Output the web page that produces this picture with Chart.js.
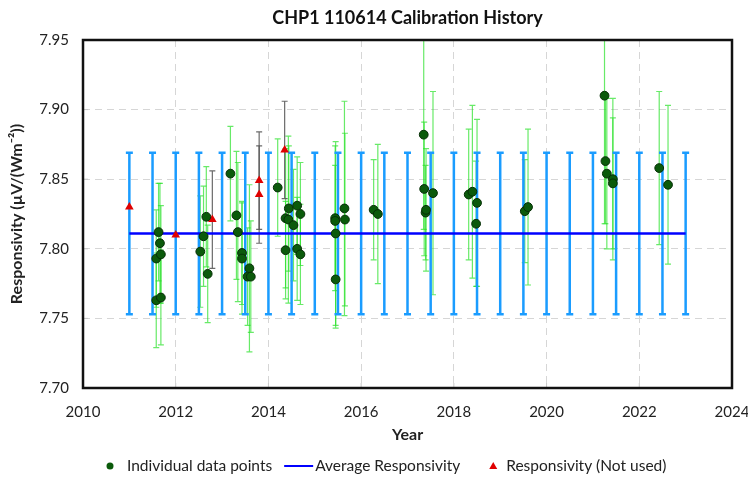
<!DOCTYPE html>
<html>
<head>
<meta charset="utf-8">
<script src="https://cdn.jsdelivr.net/npm/chart.js"></script>
<style>
  html, body { margin: 0; padding: 0; background: #fff; }
  canvas { display: block; }
</style>
</head>
<body>
<canvas id="calChart" width="748" height="477"></canvas>
<script>
// individual calibration results (year, responsivity, uncertainty)
const ptYears = [2011.58, 2011.63, 2011.66, 2011.68, 2011.58, 2011.68,
  2012.53, 2012.60, 2012.66, 2012.69,
  2013.18, 2013.31, 2013.34, 2013.43, 2013.43, 2013.59, 2013.55, 2013.62,
  2014.20, 2014.37, 2014.44, 2014.43, 2014.54, 2014.62, 2014.69, 2014.37, 2014.62, 2014.69,
  2015.44, 2015.44, 2015.45, 2015.45, 2015.64, 2015.65,
  2016.27, 2016.36,
  2017.35, 2017.36, 2017.39, 2017.40, 2017.55,
  2018.32, 2018.40, 2018.50, 2018.48,
  2019.53, 2019.60,
  2021.25, 2021.27, 2021.30, 2021.43, 2021.43,
  2022.43, 2022.62];
const ptValues = [7.793, 7.812, 7.804, 7.796, 7.763, 7.765,
  7.798, 7.809, 7.823, 7.782,
  7.854, 7.824, 7.812, 7.797, 7.793, 7.786, 7.780, 7.780,
  7.844, 7.822, 7.829, 7.821, 7.817, 7.831, 7.825, 7.799, 7.800, 7.796,
  7.822, 7.820, 7.811, 7.778, 7.829, 7.821,
  7.828, 7.825,
  7.882, 7.843, 7.826, 7.828, 7.840,
  7.839, 7.841, 7.833, 7.818,
  7.827, 7.830,
  7.910, 7.863, 7.854, 7.850, 7.847,
  7.858, 7.846];
const ptErrors = [0.035, 0.035, 0.043, 0.035, 0.034, 0.034,
  0.040, 0.036, 0.036, 0.035,
  0.034, 0.046, 0.050, 0.037, 0.040, 0.060, 0.035, 0.040,
  0.035, 0.050, 0.045, 0.060, 0.040, 0.035, 0.037, 0.035, 0.037, 0.036,
  0.052, 0.040, 0.066, 0.035, 0.077, 0.062,
  0.036, 0.050,
  0.068, 0.048, 0.034, 0.044, 0.073,
  0.047, 0.062, 0.060, 0.045,
  0.037, 0.056,
  0.092, 0.045, 0.054, 0.058, 0.047,
  0.055, 0.057];

// results that were not used in the average
const notUsedYears = [2011.00, 2012.00, 2012.79, 2013.80, 2013.80, 2014.35];
const notUsedValues = [7.830, 7.810, 7.821, 7.849, 7.839, 7.871];
const notUsedErrors = [0, 0, 0.035, 0.035, 0.035, 0.035];

// average responsivity and its uncertainty
const avgYears = [2011, 2011.5, 2012, 2012.5, 2013, 2013.5, 2014, 2014.5, 2015, 2015.5,
  2016, 2016.5, 2017, 2017.5, 2018, 2018.5, 2019, 2019.5, 2020, 2020.5,
  2021, 2021.5, 2022, 2022.5, 2023];
const avgValue = 7.811;
const avgError = 0.058;

const xTicks = [2010, 2012, 2014, 2016, 2018, 2020, 2022, 2024];
const yTicks = [7.70, 7.75, 7.80, 7.85, 7.90, 7.95];

const FONT = 'Lato, "Noto Sans", sans-serif';
Chart.defaults.font.family = FONT;
Chart.defaults.color = '#222';

function drawBars(ctx, xs, ys, errs, xScale, yScale, color, width, cap) {
  ctx.strokeStyle = color;
  ctx.lineWidth = width;
  for (let i = 0; i < xs.length; i++) {
    if (!errs[i]) continue;
    const px = xScale.getPixelForValue(xs[i]);
    const top = yScale.getPixelForValue(ys[i] + errs[i]);
    const bot = yScale.getPixelForValue(ys[i] - errs[i]);
    ctx.beginPath();
    ctx.moveTo(px, top); ctx.lineTo(px, bot);
    ctx.moveTo(px - cap, top); ctx.lineTo(px + cap, top);
    ctx.moveTo(px - cap, bot); ctx.lineTo(px + cap, bot);
    ctx.stroke();
  }
}

const errorBarPlugin = {
  id: 'errorBars',
  beforeDatasetsDraw(chart) {
    const {ctx, chartArea, scales: {x, y}} = chart;
    ctx.save();
    ctx.beginPath();
    ctx.rect(chartArea.left, chartArea.top, chartArea.width, chartArea.height);
    ctx.clip();
    // small inside tick marks
    ctx.strokeStyle = '#c8c8c8';
    ctx.lineWidth = 1;
    xTicks.forEach(v => {
      const px = x.getPixelForValue(v);
      ctx.beginPath(); ctx.moveTo(px, chartArea.bottom); ctx.lineTo(px, chartArea.bottom - 5); ctx.stroke();
    });
    yTicks.forEach(v => {
      const py = y.getPixelForValue(v);
      ctx.beginPath(); ctx.moveTo(chartArea.left, py); ctx.lineTo(chartArea.left + 5, py); ctx.stroke();
    });
    drawBars(ctx, ptYears, ptValues, ptErrors, x, y, 'rgba(40,225,40,0.7)', 1.2, 3);
    drawBars(ctx, notUsedYears, notUsedValues, notUsedErrors, x, y, 'rgba(80,80,80,0.85)', 1.2, 3);
    drawBars(ctx, avgYears, avgYears.map(() => avgValue), avgYears.map(() => avgError), x, y, '#1a9cff', 2.5, 3.5);
    ctx.restore();
  }
};

const framePlugin = {
  id: 'frame',
  afterDraw(chart) {
    const {ctx, chartArea} = chart;
    ctx.save();
    ctx.strokeStyle = '#111';
    ctx.lineWidth = 2.5;
    ctx.strokeRect(chartArea.left, chartArea.top, chartArea.width, chartArea.height);

    // legend
    const y = 466;
    ctx.font = '15.5px ' + FONT;
    ctx.textBaseline = 'middle';
    ctx.textAlign = 'left';
    let x = 110;
    ctx.fillStyle = '#0b5a0b';
    ctx.beginPath(); ctx.arc(x, y, 3.5, 0, Math.PI * 2); ctx.fill();
    x = 127;
    ctx.fillStyle = '#222';
    const t1 = 'Individual data points';
    ctx.fillText(t1, x, y);
    x += ctx.measureText(t1).width + 12;
    ctx.strokeStyle = '#0000ff'; ctx.lineWidth = 2;
    ctx.beginPath(); ctx.moveTo(x, y); ctx.lineTo(x + 29, y); ctx.stroke();
    x += 31;
    const t2 = 'Average Responsivity';
    ctx.fillText(t2, x, y);
    x += ctx.measureText(t2).width + 33;
    ctx.fillStyle = '#e00000';
    ctx.beginPath(); ctx.moveTo(x, y - 4); ctx.lineTo(x + 4, y + 3); ctx.lineTo(x - 4, y + 3); ctx.closePath(); ctx.fill();
    x += 13;
    ctx.fillStyle = '#222';
    ctx.fillText('Responsivity (Not used)', x, y);
    ctx.restore();
  }
};

const ctx = document.getElementById('calChart').getContext('2d');
const calChart = new Chart(ctx, {
  type: 'scatter',
  data: {
    datasets: [{
      label: 'Individual data points',
      data: ptYears.map((yr, i) => ({x: yr, y: ptValues[i]})),
      backgroundColor: '#0b5a0b',
      borderColor: '#062e06',
      borderWidth: 1,
      pointRadius: 4.4,
      order: 0
    }, {
      label: 'Responsivity (Not used)',
      data: notUsedYears.map((yr, i) => ({x: yr, y: notUsedValues[i]})),
      pointStyle: 'triangle',
      backgroundColor: '#e00000',
      borderColor: '#e00000',
      borderWidth: 0,
      pointRadius: 5,
      order: 1
    }, {
      label: 'Average Responsivity',
      data: avgYears.map(yr => ({x: yr, y: avgValue})),
      showLine: true,
      borderColor: '#0000ff',
      borderWidth: 2.5,
      pointRadius: 0,
      order: 2
    }]
  },
  options: {
    responsive: false,
    animation: false,
    devicePixelRatio: 1,
    layout: { padding: { left: 0, right: 16, top: 0, bottom: 33 } },
    plugins: {
      legend: { display: false },
      tooltip: { enabled: false },
      title: {
        display: true,
        fullSize: false,
        text: 'CHP1 110614 Calibration History',
        color: '#111',
        font: { size: 18, weight: 'bold', lineHeight: 1.2 },
        padding: { top: 7, bottom: 11.4 }
      }
    },
    scales: {
      x: {
        type: 'linear',
        min: xTicks[0],
        max: xTicks[xTicks.length - 1],
        afterBuildTicks: scale => { scale.ticks = xTicks.map(v => ({value: v})); },
        afterFit: scale => { scale.height = 56; scale.paddingLeft = 0; scale.paddingRight = 0; },
        ticks: { padding: 15, font: { size: 15 }, callback: v => String(v) },
        grid: { color: '#d6d6d6', lineWidth: 1, drawTicks: false },
        border: { display: false, dash: [7, 5] },
        title: { display: true, text: 'Year', font: { size: 16, weight: 'bold' }, padding: { top: 0, bottom: 0 } }
      },
      y: {
        min: yTicks[0],
        max: yTicks[yTicks.length - 1],
        afterBuildTicks: scale => { scale.ticks = yTicks.map(v => ({value: v})); },
        afterFit: scale => { scale.width = 83; scale.paddingTop = 0; scale.paddingBottom = 0; },
        ticks: { padding: 14, font: { size: 15 }, callback: v => v.toFixed(2) },
        grid: { color: '#d6d6d6', lineWidth: 1, drawTicks: false },
        border: { display: false, dash: [7, 5] },
        title: { display: true, text: 'Responsivity (µV/(Wm⁻²))', font: { size: 16, weight: 'bold' }, padding: { top: 7, bottom: 0 } }
      }
    }
  },
  plugins: [errorBarPlugin, framePlugin]
});
</script>
</body>
</html>
